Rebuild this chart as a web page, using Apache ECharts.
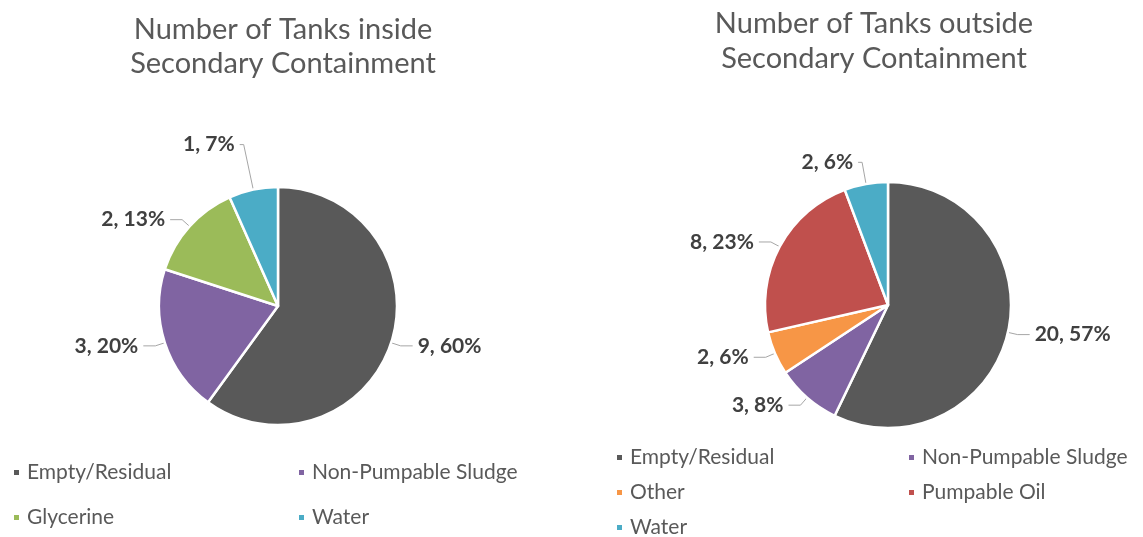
<!DOCTYPE html>
<html>
<head>
<meta charset="utf-8">
<script src="https://cdn.jsdelivr.net/npm/echarts@6/dist/echarts.min.js"></script>
<style>
html,body{margin:0;padding:0;background:#fff;}
#chart{width:1143px;height:537px;}
</style>
</head>
<body>
<div id="chart"></div>
<script>
// ---- data ----
const insideTitle = 'Number of Tanks inside\nSecondary Containment';
const outsideTitle = 'Number of Tanks outside\nSecondary Containment';
const insideCategories = ['Empty/Residual', 'Non-Pumpable Sludge', 'Glycerine', 'Water'];
const insideValues = [9, 3, 2, 1];
const outsideCategories = ['Empty/Residual', 'Non-Pumpable Sludge', 'Other', 'Pumpable Oil', 'Water'];
const outsideValues = [20, 3, 2, 8, 2];
const categoryColors = {
  'Empty/Residual': '#595959',
  'Non-Pumpable Sludge': '#8064A2',
  'Glycerine': '#9BBB59',
  'Water': '#4BACC6',
  'Other': '#F79646',
  'Pumpable Oil': '#C0504D'
};

// ---- layout ----
const FONT = 'Lato, "Open Sans", sans-serif';
const insideLegendPos = [[12, 462], [297, 462], [12, 507], [297, 507]];
const outsideLegendPos = [[615, 447], [907, 447], [615, 482], [907, 482], [615, 517]];
// leader-line overrides (styling only), keyed by category
const insideLeader = { 'Water': { length: 46, length2: 4 } };
const outsideLeader = { 'Water': { length: 22, length2: 4 } };

function pieData(cats, vals, leader) {
  return cats.map((c, i) => {
    const d = { name: c, value: vals[i], itemStyle: { color: categoryColors[c] } };
    if (leader[c]) d.labelLine = leader[c];
    return d;
  });
}

function legends(cats, pos) {
  return cats.map((c, i) => ({
    data: [c],
    left: pos[i][0],
    top: pos[i][1],
    padding: 0,
    icon: 'rect',
    itemWidth: 7,
    itemHeight: 7,
    selectedMode: false,
    textStyle: { color: '#595959', fontSize: 21, fontFamily: FONT, padding: [0, 0, 0, 2] }
  }));
}

function pieSeries(cats, vals, center, radius, leader) {
  return {
    type: 'pie',
    center: center,
    radius: radius,
    startAngle: 90,
    clockwise: true,
    percentPrecision: 0,
    avoidLabelOverlap: true,
    itemStyle: { borderColor: '#ffffff', borderWidth: 2.5 },
    label: {
      show: true,
      position: 'outside',
      formatter: '{c}, {d}%',
      color: '#404040',
      fontSize: 21,
      fontWeight: 'bold',
      fontFamily: FONT
    },
    labelLine: {
      show: true,
      length: 10,
      length2: 12,
      lineStyle: { color: '#A6A6A6', width: 1 }
    },
    emphasis: { disabled: true },
    data: pieData(cats, vals, leader)
  };
}

const chart = echarts.init(document.getElementById('chart'), null, { renderer: 'canvas' });
chart.setOption({
  animation: false,
  backgroundColor: '#ffffff',
  title: [
    {
      text: insideTitle, left: 278, top: 8, textAlign: 'center',
      textStyle: { color: '#595959', fontSize: 29, fontWeight: 'normal', fontFamily: FONT, lineHeight: 34 }
    },
    {
      text: outsideTitle, left: 869, top: 1, textAlign: 'center',
      textStyle: { color: '#595959', fontSize: 29, fontWeight: 'normal', fontFamily: FONT, lineHeight: 35 }
    }
  ],
  legend: legends(insideCategories, insideLegendPos).concat(legends(outsideCategories, outsideLegendPos)),
  series: [
    pieSeries(insideCategories, insideValues, [278, 306], 119, insideLeader),
    pieSeries(outsideCategories, outsideValues, [888, 305], 123, outsideLeader)
  ]
});
</script>
</body>
</html>
